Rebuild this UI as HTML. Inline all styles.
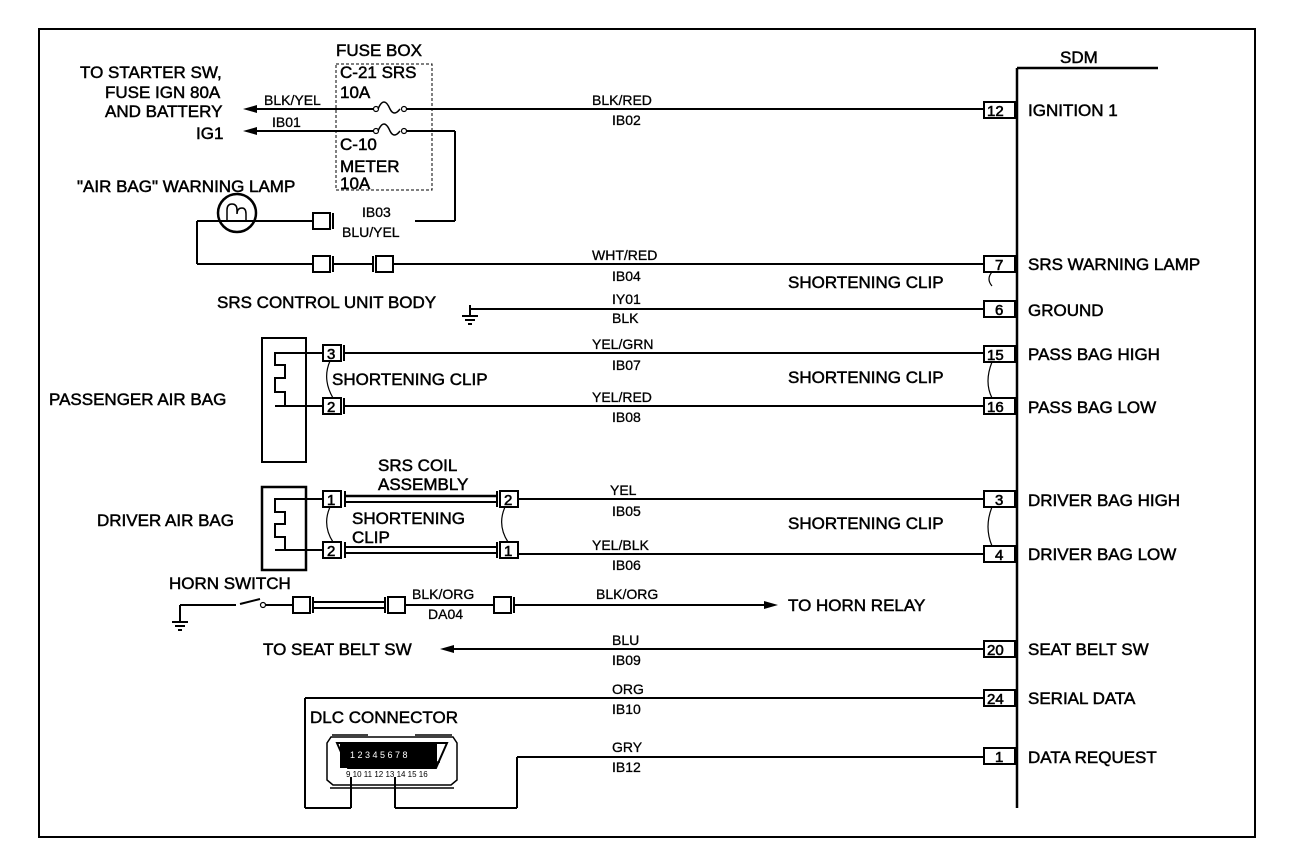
<!DOCTYPE html>
<html><head><meta charset="utf-8"><style>
html,body{margin:0;padding:0;background:#fff;}
svg{display:block;font-family:"Liberation Sans",Arial,sans-serif;}
.t{font-size:17px;fill:#000;stroke:#000;stroke-width:0.5;}
.s{font-size:14px;fill:#000;stroke:#000;stroke-width:0.3;}
.p{font-size:15px;fill:#000;stroke:#000;stroke-width:0.6;}
</style></head><body>
<svg width="1312" height="868" viewBox="0 0 1312 868" xmlns="http://www.w3.org/2000/svg">
<rect x="0" y="0" width="1312" height="868" fill="#fff"/>
<rect x="39" y="29" width="1216" height="808" fill="none" stroke="#000" stroke-width="2"/>
<g stroke="#000" stroke-width="2" fill="none">
<line x1="1017" y1="68" x2="1017" y2="808" stroke-width="2.5"/>
<line x1="1017" y1="68" x2="1158" y2="68" stroke-width="2.5"/>
<rect x="984" y="102" width="31" height="16"/>
<rect x="984" y="256" width="31" height="16"/>
<rect x="984" y="301" width="31" height="16"/>
<rect x="984" y="346" width="31" height="16"/>
<rect x="984" y="398" width="31" height="16"/>
<rect x="984" y="491" width="31" height="16"/>
<rect x="984" y="546" width="31" height="16"/>
<rect x="984" y="641" width="31" height="16"/>
<rect x="984" y="690" width="31" height="16"/>
<rect x="984" y="748" width="31" height="16"/>
<path d="M992 272 q-6 7 0 14 M992 362 q-8 20 0 36 M992 507 q-8 20 0 39" stroke-width="1.2"/>
<line x1="250" y1="109" x2="374" y2="109"/>
<line x1="406" y1="109" x2="984" y2="109"/>
<line x1="250" y1="131" x2="374" y2="131"/>
<line x1="406" y1="131" x2="455" y2="131"/>
<line x1="455" y1="131" x2="455" y2="221"/>
<line x1="455" y1="221" x2="415" y2="221"/>
<path d="M378 109 q6 -14 12 0 q4 8 10 0 M378 131 q6 -14 12 0 q4 8 10 0" stroke-width="1.5"/>
<circle cx="376" cy="109" r="2.5" stroke-width="1.2"/><circle cx="404" cy="109" r="2.5" stroke-width="1.2"/>
<circle cx="376" cy="131" r="2.5" stroke-width="1.2"/><circle cx="404" cy="131" r="2.5" stroke-width="1.2"/>
<rect x="336" y="64" width="96" height="126" stroke-dasharray="3,2" stroke-width="1"/>
<circle cx="237" cy="213" r="19" stroke-width="2.5"/>
<path d="M227 220 v-10 q0 -6 5 -6 q5 0 5 6 v4 q0 -6 5 -6 q4 0 4 6 v6" stroke-width="1.5"/>
<line x1="197" y1="221" x2="313" y2="221"/>
<line x1="197" y1="221" x2="197" y2="264"/>
<line x1="197" y1="264" x2="313" y2="264"/>
<rect x="313" y="213" width="17" height="16"/><line x1="333" y1="213" x2="333" y2="229"/>
<rect x="313" y="256" width="17" height="16"/><line x1="333" y1="256" x2="333" y2="272"/>
<line x1="333" y1="264" x2="373" y2="264"/>
<rect x="376" y="256" width="17" height="16"/><line x1="373" y1="256" x2="373" y2="272"/>
<line x1="393" y1="264" x2="984" y2="264"/>
<line x1="470" y1="309" x2="984" y2="309"/>
<line x1="470" y1="305" x2="470" y2="316"/>
<line x1="462" y1="316" x2="478" y2="316"/><line x1="465" y1="320" x2="475" y2="320"/><line x1="468" y1="324" x2="472" y2="324"/>
<rect x="262" y="338" width="44" height="124"/>
<path d="M323 353 H275 V365 H285 V378 H275 V392 H285 V406 H275 M275 406 H323"/>
<rect x="323" y="345" width="18" height="16"/><line x1="344" y1="345" x2="344" y2="361"/>
<rect x="323" y="398" width="18" height="16"/><line x1="344" y1="398" x2="344" y2="414"/>
<line x1="344" y1="353" x2="984" y2="353"/>
<line x1="344" y1="406" x2="984" y2="406"/>
<path d="M330 361 q-8 18 3 37" stroke-width="1.2"/>
<rect x="262" y="487" width="44" height="83" stroke-width="2.5"/>
<path d="M323 499 H275 V512 H285 V524 H275 V537 H285 V550 H275 M275 550 H323"/>
<rect x="323" y="491" width="18" height="16"/><line x1="345" y1="491" x2="345" y2="507"/>
<rect x="323" y="542" width="18" height="16"/><line x1="345" y1="542" x2="345" y2="558"/>
<line x1="345" y1="496" x2="497" y2="496" stroke-width="2.5"/><line x1="345" y1="502" x2="497" y2="502"/>
<line x1="345" y1="547" x2="497" y2="547"/><line x1="345" y1="553" x2="497" y2="553"/>
<rect x="500" y="491" width="18" height="16"/><line x1="497" y1="491" x2="497" y2="507"/>
<rect x="500" y="542" width="18" height="16"/><line x1="497" y1="542" x2="497" y2="558"/>
<line x1="518" y1="499" x2="984" y2="499"/>
<line x1="518" y1="554" x2="984" y2="554"/>
<path d="M330 507 q-8 18 3 35 M505 507 q-8 18 3 35" stroke-width="1.2"/>
<line x1="180" y1="605" x2="180" y2="622"/>
<line x1="172" y1="622" x2="188" y2="622"/><line x1="175" y1="626" x2="185" y2="626"/><line x1="178" y1="630" x2="182" y2="630"/>
<line x1="180" y1="605" x2="236" y2="605"/>
<line x1="240" y1="604" x2="260" y2="599"/>
<circle cx="263" cy="605" r="2.5" stroke-width="1.2"/>
<line x1="266" y1="605" x2="293" y2="605"/>
<rect x="293" y="597" width="17" height="16"/><line x1="313" y1="597" x2="313" y2="613"/>
<line x1="313" y1="602" x2="385" y2="602"/><line x1="313" y1="608" x2="385" y2="608"/>
<rect x="388" y="597" width="17" height="16"/><line x1="385" y1="597" x2="385" y2="613"/>
<line x1="405" y1="605" x2="494" y2="605"/>
<rect x="494" y="597" width="17" height="16"/><line x1="514" y1="597" x2="514" y2="613"/>
<line x1="514" y1="605" x2="765" y2="605"/>
<line x1="450" y1="649" x2="984" y2="649"/>
<line x1="305" y1="698" x2="984" y2="698"/>
<line x1="305" y1="698" x2="305" y2="808"/>
<line x1="305" y1="808" x2="351" y2="808"/>
<line x1="351" y1="808" x2="351" y2="777"/>
<line x1="395" y1="808" x2="517" y2="808"/>
<line x1="395" y1="808" x2="395" y2="777"/>
<line x1="517" y1="808" x2="517" y2="757"/>
<line x1="517" y1="757" x2="984" y2="757"/>
<path d="M327 743 L331 737 H453 L457 743 V780 L451 785 H333 L327 780 Z" stroke-width="1.5"/>
<path d="M337 743 L348 768 H436 L447 743 Z" stroke-width="2"/>
<line x1="345" y1="762" x2="440" y2="762" stroke-width="1.5"/>
<path d="M332 735 H368 M415 735 H452 M330 788 H454" stroke-width="1.5"/>
</g>
<g fill="#000">
<polygon points="243,109 257,105 257,113"/>
<polygon points="243,131 257,127 257,135"/>
<polygon points="778,605 764,601 764,609"/>
<polygon points="440,649 454,645 454,653"/>
<rect x="340" y="743" width="97" height="25" fill="#000"/>
</g>
<g fill="#fff" font-size="9" font-family="Liberation Sans,sans-serif">
<text x="350" y="758">1 2 3 4 5 6 7 8</text>
<text x="346" y="777" fill="#000" font-size="8">9 10 11 12 13 14 15 16</text>
</g>
<g class="t">
<text x="1060" y="63">SDM</text>
<text x="336" y="56">FUSE BOX</text>
<text x="340" y="78">C-21 SRS</text>
<text x="340" y="98">10A</text>
<text x="340" y="150">C-10</text>
<text x="340" y="172">METER</text>
<text x="340" y="189">10A</text>
<text x="80" y="78">TO STARTER SW,</text>
<text x="105" y="98">FUSE IGN 80A</text>
<text x="105" y="117">AND BATTERY</text>
<text x="196" y="139">IG1</text>
<text x="77" y="192">"AIR BAG" WARNING LAMP</text>
<text x="217" y="308">SRS CONTROL UNIT BODY</text>
<text x="49" y="405">PASSENGER AIR BAG</text>
<text x="332" y="385">SHORTENING CLIP</text>
<text x="97" y="526">DRIVER AIR BAG</text>
<text x="378" y="471">SRS COIL</text>
<text x="378" y="490">ASSEMBLY</text>
<text x="352" y="524">SHORTENING</text>
<text x="352" y="543">CLIP</text>
<text x="169" y="589">HORN SWITCH</text>
<text x="788" y="611">TO HORN RELAY</text>
<text x="263" y="655">TO SEAT BELT SW</text>
<text x="310" y="723">DLC CONNECTOR</text>
<text x="788" y="288">SHORTENING CLIP</text>
<text x="788" y="383">SHORTENING CLIP</text>
<text x="788" y="529">SHORTENING CLIP</text>
<text x="1028" y="116">IGNITION 1</text>
<text x="1028" y="270">SRS WARNING LAMP</text>
<text x="1028" y="316">GROUND</text>
<text x="1028" y="360">PASS BAG HIGH</text>
<text x="1028" y="413">PASS BAG LOW</text>
<text x="1028" y="506">DRIVER BAG HIGH</text>
<text x="1028" y="560">DRIVER BAG LOW</text>
<text x="1028" y="655">SEAT BELT SW</text>
<text x="1028" y="704">SERIAL DATA</text>
<text x="1028" y="763">DATA REQUEST</text>
</g>
<g class="s">
<text x="264" y="105">BLK/YEL</text>
<text x="272" y="127">IB01</text>
<text x="592" y="105">BLK/RED</text>
<text x="612" y="125">IB02</text>
<text x="362" y="217">IB03</text>
<text x="342" y="237">BLU/YEL</text>
<text x="592" y="260">WHT/RED</text>
<text x="612" y="281">IB04</text>
<text x="612" y="304">IY01</text>
<text x="612" y="323">BLK</text>
<text x="592" y="349">YEL/GRN</text>
<text x="612" y="370">IB07</text>
<text x="592" y="402">YEL/RED</text>
<text x="612" y="422">IB08</text>
<text x="610" y="495">YEL</text>
<text x="612" y="516">IB05</text>
<text x="592" y="550">YEL/BLK</text>
<text x="612" y="570">IB06</text>
<text x="412" y="599">BLK/ORG</text>
<text x="428" y="619">DA04</text>
<text x="596" y="599">BLK/ORG</text>
<text x="612" y="645">BLU</text>
<text x="612" y="665">IB09</text>
<text x="612" y="694">ORG</text>
<text x="612" y="714">IB10</text>
<text x="612" y="752">GRY</text>
<text x="612" y="772">IB12</text>
</g>
<g class="p">
<text x="987" y="116">12</text>
<text x="995" y="270">7</text>
<text x="995" y="315">6</text>
<text x="987" y="360">15</text>
<text x="987" y="412">16</text>
<text x="995" y="505">3</text>
<text x="995" y="560">4</text>
<text x="987" y="655">20</text>
<text x="987" y="704">24</text>
<text x="995" y="762">1</text>
<text x="327" y="359">3</text>
<text x="327" y="412">2</text>
<text x="327" y="505">1</text>
<text x="327" y="556">2</text>
<text x="504" y="505">2</text>
<text x="504" y="556">1</text>
</g>
</svg>
</body></html>
